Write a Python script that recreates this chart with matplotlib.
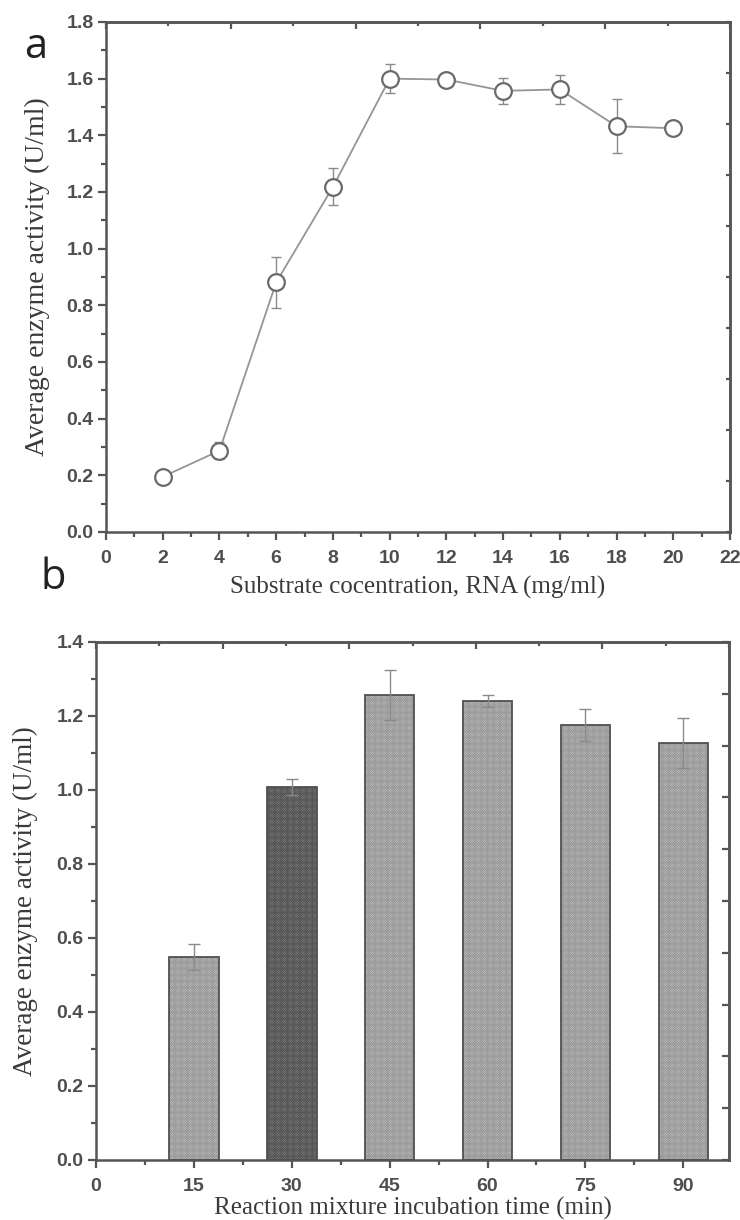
import matplotlib
matplotlib.use('Agg')
import matplotlib.pyplot as plt
import numpy as np
from matplotlib.ticker import MultipleLocator, FixedLocator

# ---------------- data ----------------
conc = [2, 4, 6, 8, 10, 12, 14, 16, 18, 20]
act_a = [0.195, 0.287, 0.881, 1.218, 1.600, 1.597, 1.557, 1.562, 1.432, 1.425]
err_a = [0.010, 0.030, 0.090, 0.065, 0.050, 0.010, 0.045, 0.050, 0.095, 0.015]

times = [15, 30, 45, 60, 75, 90]
act_b = [0.549, 1.008, 1.257, 1.241, 1.176, 1.127]
err_b = [0.035, 0.022, 0.067, 0.016, 0.043, 0.068]

xticks_a = [0, 2, 4, 6, 8, 10, 12, 14, 16, 18, 20, 22]
yticks_a = [0.0, 0.2, 0.4, 0.6, 0.8, 1.0, 1.2, 1.4, 1.6, 1.8]
xticks_b = [0, 15, 30, 45, 60, 75, 90]
yticks_b = [0.0, 0.2, 0.4, 0.6, 0.8, 1.0, 1.2, 1.4]

xlabel_a = 'Substrate cocentration, RNA (mg/ml)'
xlabel_b = 'Reaction mixture incubation time (min)'
ylabel = 'Average enzyme activity (U/ml)'

# ---------------- style ----------------
SPINE = '#555555'
TXT = '#3a3a3a'
TICKTXT = '#4e4e4e'
LINE = '#959595'
ERR = '#8a8a8a'
plt.rcParams['hatch.linewidth'] = 0.6

fig = plt.figure(figsize=(7.4, 12.2), dpi=100)
W, H = 740, 1220

def frac(l, t, r, b):
    return [l / W, 1 - b / H, (r - l) / W, (b - t) / H]

def style_axes(ax, xmin, ymin, top_maj, top_min, right_ticks, rlen):
    for s in ax.spines.values():
        s.set_color(SPINE)
        s.set_linewidth(1.8)
    ax.tick_params(which='both', direction='out', color=SPINE, width=1.6,
                   top=False, right=False, labelcolor=TICKTXT)
    ax.tick_params(which='major', length=6, labelsize=14)
    ax.tick_params(axis='x', which='major', pad=7)
    ax.tick_params(axis='y', which='major', pad=3)
    ax.tick_params(which='minor', length=3.5)
    ax.xaxis.set_minor_locator(MultipleLocator(xmin))
    ax.yaxis.set_minor_locator(MultipleLocator(ymin))
    for lab in ax.get_xticklabels() + ax.get_yticklabels():
        lab.set_fontfamily('Liberation Sans')
        lab.set_fontweight('bold')
    secx = ax.secondary_xaxis('top')
    secx.xaxis.set_major_locator(FixedLocator(top_maj))
    secx.xaxis.set_minor_locator(FixedLocator(top_min))
    secx.tick_params(which='both', direction='in', labeltop=False, color=SPINE, width=1.6)
    secx.tick_params(which='major', length=5)
    secx.tick_params(which='minor', length=3)
    secx.spines['top'].set_color(SPINE)
    secx.spines['top'].set_linewidth(1.8)
    secy = ax.secondary_yaxis('right')
    secy.yaxis.set_major_locator(FixedLocator(right_ticks))
    secy.yaxis.set_minor_locator(FixedLocator([]))
    secy.tick_params(which='both', direction='in', labelright=False, color=SPINE,
                     width=1.6, length=rlen)
    secy.spines['right'].set_color(SPINE)
    secy.spines['right'].set_linewidth(1.8)

# ---------------- panel a ----------------
axa = fig.add_axes(frac(106, 22, 730, 532))
axa.errorbar(conc, act_a, yerr=err_a, fmt='none', ecolor=ERR, elinewidth=1.0,
             capsize=3.5, capthick=1.0, zorder=2)
axa.plot(conc, act_a, '-', color=LINE, lw=1.3, zorder=3)
axa.plot(conc, act_a, 'o', ms=12, mfc='white', mec='#6a6a6a', mew=1.6, zorder=4)
axa.set_xlim(0, 22)
axa.set_ylim(0, 1.8)
axa.set_xticks(xticks_a)
axa.set_yticks(yticks_a)
axa.set_yticklabels([f'{v:.1f}' for v in yticks_a])
axa.set_xlabel(xlabel_a, family='Liberation Serif', fontsize=18, color=TXT)
axa.set_ylabel(ylabel, family='Liberation Serif', fontsize=20, color=TXT)
axa.xaxis.set_label_coords(0.5, -0.086)
axa.yaxis.set_label_coords(-0.090, 0.50)
style_axes(axa, 1, 0.1, np.arange(0, 22.01, 4.4), np.arange(2.2, 22, 4.4),
           np.arange(0, 1.801, 0.18), 3)

# ---------------- panel b ----------------
axb = fig.add_axes(frac(96, 642, 729, 1160))
for t, v in zip(times, act_b):
    dark = (t == 30)
    fc = '#8c8c8c' if dark else '#c8c8c8'
    hc = '#575757' if dark else '#9c9c9c'
    axb.bar(t, v, width=7.6, color=fc, edgecolor=hc, linewidth=0,
            hatch='x' * 14, zorder=2)
    axb.bar(t, v, width=7.6, fill=False, edgecolor='#505050', linewidth=1.3, zorder=3)
axb.errorbar(times, act_b, yerr=err_b, fmt='none', ecolor=ERR, elinewidth=1.0,
             capsize=4.5, capthick=1.0, zorder=4)
axb.set_xlim(0, 97)
axb.set_ylim(0, 1.4)
axb.set_xticks(xticks_b)
axb.set_yticks(yticks_b)
axb.set_yticklabels([f'{v:.1f}' for v in yticks_b])
axb.set_xlabel(xlabel_b, family='Liberation Serif', fontsize=18, color=TXT)
axb.set_ylabel(ylabel, family='Liberation Serif', fontsize=19.5, color=TXT)
axb.xaxis.set_label_coords(0.5, -0.071)
axb.yaxis.set_label_coords(-0.092, 0.50)
style_axes(axb, 7.5, 0.1, np.arange(0, 97.01, 19.4), np.arange(9.7, 97, 19.4),
           np.arange(0, 1.401, 0.14), 5)

# panel letters
fig.text(36 / W, 1 - 47 / H, 'a', family='Open Sans', fontsize=30, color='#222222',
         ha='center', va='center')
fig.text(53 / W, 1 - 578 / H, 'b', family='Open Sans', fontsize=30, color='#222222',
         ha='center', va='center')

fig.savefig('out.png', dpi=100)
